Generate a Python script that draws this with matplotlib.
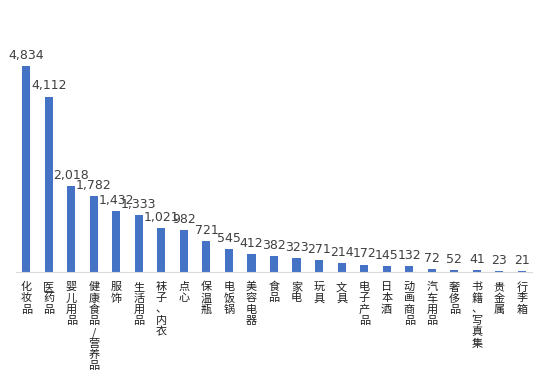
import matplotlib
matplotlib.use("Agg")
import matplotlib.pyplot as plt
import matplotlib.transforms as mtransforms

plt.rcParams['font.family'] = ['Noto Sans CJK SC', 'DejaVu Sans']

categories = ["化妆品", "医药品", "婴儿用品", "健康食品/营养品", "服饰", "生活用品",
              "袜子、内衣", "点心", "保温瓶", "电饭锅", "美容电器", "食品", "家电",
              "玩具", "文具", "电子产品", "日本酒", "动画商品", "汽车用品", "奢侈品",
              "书籍、写真集", "贵金属", "行李箱"]
values = [4834, 4112, 2018, 1782, 1432, 1333, 1021, 982, 721, 545, 412, 382, 323,
          271, 214, 172, 145, 132, 72, 52, 41, 23, 21]

fig = plt.figure(figsize=(5.5, 3.82), dpi=100)
ax = fig.add_axes([16/550, 110/382, 516/550, 256/382])

x = list(range(len(categories)))
ax.bar(x, values, width=0.36, color="#4472C4", zorder=2)

for xi, v in zip(x, values):
    ax.annotate(f"{v:,}", (xi, v), xytext=(0, 3), textcoords="offset points",
                ha="center", va="bottom", fontsize=9, color="#404040",
                family=['DejaVu Sans'])

ax.set_ylim(0, 6000)
ax.set_xlim(-0.45, len(categories) - 0.55)
ax.set_yticks([])
ax.set_xticks([])

# vertical (stacked) category labels
base = mtransforms.blended_transform_factory(ax.transData, ax.transAxes)
step_px = 11.3
for xi, cat in zip(x, categories):
    for j, ch in enumerate(cat):
        tr = mtransforms.offset_copy(base, fig=fig, x=0,
                                     y=-(10 + j * step_px) * 72 / fig.dpi,
                                     units="points")
        ax.text(xi, 0, ch, transform=tr, ha="center", va="top", fontsize=8,
                color="#1f1f1f", fontweight="medium", clip_on=False)

for s in ["top", "right", "left"]:
    ax.spines[s].set_visible(False)
ax.spines["bottom"].set_color("#d9d9d9")

fig.savefig("out.png", dpi=100)
